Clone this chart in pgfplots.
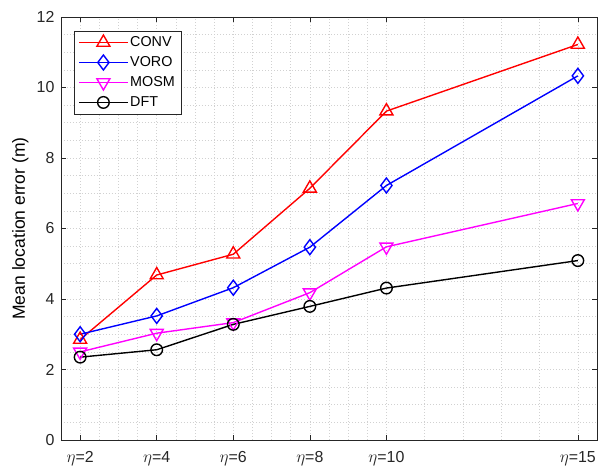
\documentclass[border=0pt]{standalone}
\usepackage{pgfplots}
\pgfplotsset{compat=1.18}
\usepackage{fontspec}
\setmainfont{Liberation Sans}
\definecolor{axgray}{gray}{0.15}
\definecolor{gridgray}{gray}{0.82}
\definecolor{mred}{rgb}{1,0,0}
\definecolor{mblue}{rgb}{0,0,1}
\definecolor{mmag}{rgb}{1,0,1}

\begin{document}
\begin{tikzpicture}
\begin{axis}[
  name=main,
  at={(0,0)}, anchor=south west,
  scale only axis,
  width=536bp, height=423bp,
  xmin=1.5, xmax=15.5,
  ymin=0, ymax=12,
  xtick={2,4,6,8,10,15},
  xticklabels={{$\eta$=2},{$\eta$=4},{$\eta$=6},{$\eta$=8},{$\eta$=10},{$\eta$=15}},
  ytick={0,2,4,6,8,10,12},
  minor xtick={2.5,3,3.5,4.5,5,5.5,6.5,7,7.5,8.5,9,9.5,11,12,13,14},
  minor ytick={0.5,1,...,11.5},
  /pgf/number format/assume math mode=true,
  grid=both,
  major grid style={dash pattern=on 1bp off 2bp, gridgray, line width=0.6pt},
  minor grid style={dash pattern=on 1bp off 2bp, gridgray, line width=0.6pt},
  tick align=inside,
  major tick length=5bp,
  minor tick length=0pt,
  tick style={axgray, line width=0.5pt},
  axis line style={axgray, line width=0.6pt},
  ticklabel style={font=\fontsize{16}{18}\selectfont, text=axgray},
  xticklabel style={yshift=-8bp},
  yticklabel style={xshift=-3bp},
  ylabel={Mean location error (m)},
  every axis y label/.style={at={([xshift=-36bp]axis description cs:0,0.5)},
    rotate=90, anchor=base, inner sep=0pt,
    font=\fontsize{17.6}{20}\selectfont, text=black},
  legend style={at={(0.024,0.968)}, anchor=north west,
    draw=axgray, line width=0.5pt, fill=white,
    font=\fontsize{14.4}{16}\selectfont,
    row sep=4.5bp, inner xsep=4.5bp, inner ysep=4bp},
  legend cell align=left,
  legend image code/.code={
    \draw[mark repeat=2, mark phase=2] plot coordinates {(0cm,0cm) (0.85cm,0cm) (1.7cm,0cm)};
  },
  every axis plot/.append style={line width=1.4pt},
]
\addplot[mred, mark=triangle, mark size=7.5bp, mark options={solid, fill=white}]
  coordinates {(2,2.85) (4,4.68) (6,5.27) (8,7.14) (10,9.33) (15,11.22)};
\addlegendentry{CONV}
\addplot[mblue, mark=diamond, mark size=7.5bp, mark options={solid, fill=white}]
  coordinates {(2,3.00) (4,3.52) (6,4.32) (8,5.47) (10,7.22) (15,10.33)};
\addlegendentry{VORO}
\addplot[mmag, mark=triangle, mark size=7.5bp, mark options={solid, rotate=180, fill=white}]
  coordinates {(2,2.50) (4,3.03) (6,3.33) (8,4.18) (10,5.48) (15,6.71)};
\addlegendentry{MOSM}
\addplot[black, mark=o, mark size=5.8bp, mark options={solid, fill=white}]
  coordinates {(2,2.35) (4,2.56) (6,3.28) (8,3.79) (10,4.31) (15,5.09)};
\addlegendentry{DFT}
\end{axis}
% page area around the axis box: room for the labels on the left and below
\pgfresetboundingbox
\useasboundingbox (main.south west) ++(-61bp,-28bp) rectangle ([xshift=1bp,yshift=17bp]main.north east);
\end{tikzpicture}
\end{document}
